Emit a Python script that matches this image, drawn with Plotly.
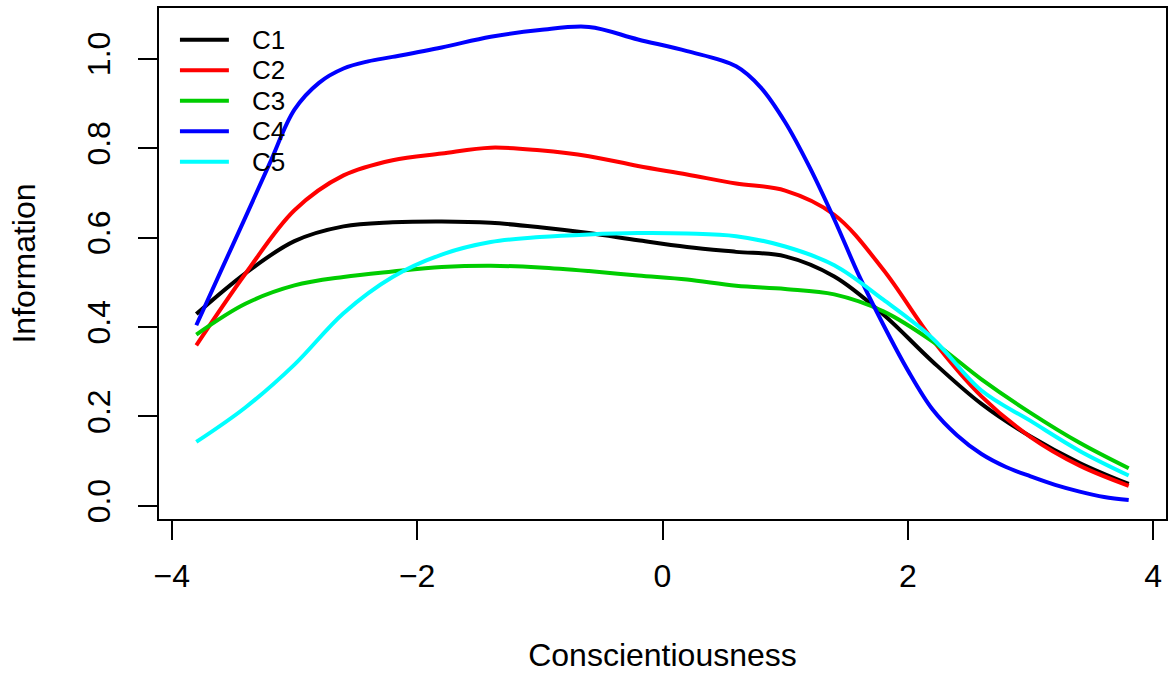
import plotly.graph_objects as go

# Item information curves for the five conscientiousness items
theta = [-3.8, -3.4, -3.0, -2.6, -2.2, -1.8, -1.4, -1.0, -0.6, -0.2,
         0.2, 0.6, 1.0, 1.4, 1.8, 2.2, 2.6, 3.0, 3.4, 3.8]

info_c1 = [0.429, 0.520, 0.592, 0.625, 0.634, 0.636, 0.633, 0.623, 0.610, 0.594,
           0.579, 0.568, 0.558, 0.513, 0.428, 0.323, 0.228, 0.155, 0.096, 0.049]
info_c2 = [0.359, 0.519, 0.661, 0.739, 0.773, 0.788, 0.801, 0.795, 0.782, 0.760,
           0.741, 0.721, 0.705, 0.651, 0.528, 0.372, 0.245, 0.154, 0.090, 0.045]
info_c3 = [0.383, 0.452, 0.493, 0.512, 0.524, 0.534, 0.537, 0.533, 0.525, 0.515,
           0.506, 0.492, 0.485, 0.473, 0.435, 0.368, 0.283, 0.208, 0.141, 0.084]
info_c5 = [0.143, 0.220, 0.316, 0.431, 0.512, 0.562, 0.590, 0.601, 0.607, 0.610,
           0.609, 0.603, 0.580, 0.538, 0.461, 0.375, 0.258, 0.190, 0.123, 0.068]

# C4 changes steeply, so it is sampled on a finer grid
theta_c4 = [-3.8, -3.6, -3.4, -3.2, -3.0, -2.8, -2.6, -2.4, -2.2, -1.8, -1.4,
            -1.0, -0.6, -0.2, 0.2, 0.6, 0.8, 1.0, 1.2, 1.4, 1.6, 1.8, 2.0,
            2.2, 2.4, 2.6, 2.8, 3.0, 3.2, 3.4, 3.6, 3.8]
info_c4 = [0.404, 0.525, 0.645, 0.767, 0.886, 0.946, 0.978, 0.994, 1.004, 1.025, 1.049,
           1.064, 1.071, 1.043, 1.017, 0.983, 0.936, 0.858, 0.757, 0.641, 0.516, 0.405, 0.303,
           0.216, 0.158, 0.116, 0.087, 0.066, 0.047, 0.032, 0.020, 0.013]

item_names = ["C1", "C2", "C3", "C4", "C5"]
item_colors = ["#000000", "#FF0000", "#00CD00", "#0000FF", "#00FFFF"]
item_x = [theta, theta, theta, theta_c4, theta]
series = [info_c1, info_c2, info_c3, info_c4, info_c5]

x_ticks = [-4, -2, 0, 2, 4]
y_ticks = [0.0, 0.2, 0.4, 0.6, 0.8, 1.0]

FONT = "Liberation Sans, Arial, Helvetica, sans-serif"
BASE = 32
LEGEND_SIZE = 26

fig = go.Figure()
for name, color, xs, vals in zip(item_names, item_colors, item_x, series):
    fig.add_trace(go.Scatter(
        x=xs, y=vals, name=name, mode="lines", showlegend=False,
        line=dict(color=color, width=4, shape="spline", smoothing=1.0),
    ))

# Legend box in the top-left corner of the panel (paper coordinates)
key_x0, key_x1, text_x = 0.0208, 0.0694, 0.0902
row_top, row_step = 0.938, 0.0597
for i, (name, color) in enumerate(zip(item_names, item_colors)):
    ry = row_top - i * row_step
    fig.add_shape(type="line", xref="paper", yref="paper",
                  x0=key_x0, x1=key_x1, y0=ry, y1=ry,
                  line=dict(color=color, width=4))
    fig.add_annotation(xref="paper", yref="paper", x=text_x, y=ry,
                       text=name, showarrow=False, xanchor="left", yanchor="middle",
                       font=dict(family=FONT, size=LEGEND_SIZE, color="black"))

# R-style padded ranges (4% on each side)
all_x = [v for xs in item_x for v in xs]
xr = max(all_x) - min(all_x)
all_vals = [v for s in series for v in s]
yr = max(all_vals) - min(all_vals)

axis_common = dict(
    showline=True, linecolor="black", linewidth=2, mirror=True,
    ticks="outside", ticklen=19, tickwidth=2, tickcolor="black",
    showgrid=False, zeroline=False,
    tickfont=dict(family=FONT, size=BASE, color="black"),
)

fig.update_layout(
    width=1170, height=673,
    margin=dict(l=159, r=2, t=8, b=154),
    paper_bgcolor="white", plot_bgcolor="white",
    font=dict(family=FONT, color="black"),
    xaxis=dict(
        range=[min(all_x) - 0.04 * xr, max(all_x) + 0.04 * xr],
        tickvals=x_ticks, ticklabelstandoff=9,
        title=dict(text="Conscientiousness", font=dict(family=FONT, size=BASE), standoff=52),
        **axis_common,
    ),
    yaxis=dict(
        range=[min(all_vals) - 0.04 * yr, max(all_vals) + 0.04 * yr],
        tickvals=y_ticks, tickformat=".1f", tickangle=-90, ticklabelstandoff=15,
        title=dict(text="Information", font=dict(family=FONT, size=BASE), standoff=36),
        **axis_common,
    ),
)

fig.write_html("out.html")
